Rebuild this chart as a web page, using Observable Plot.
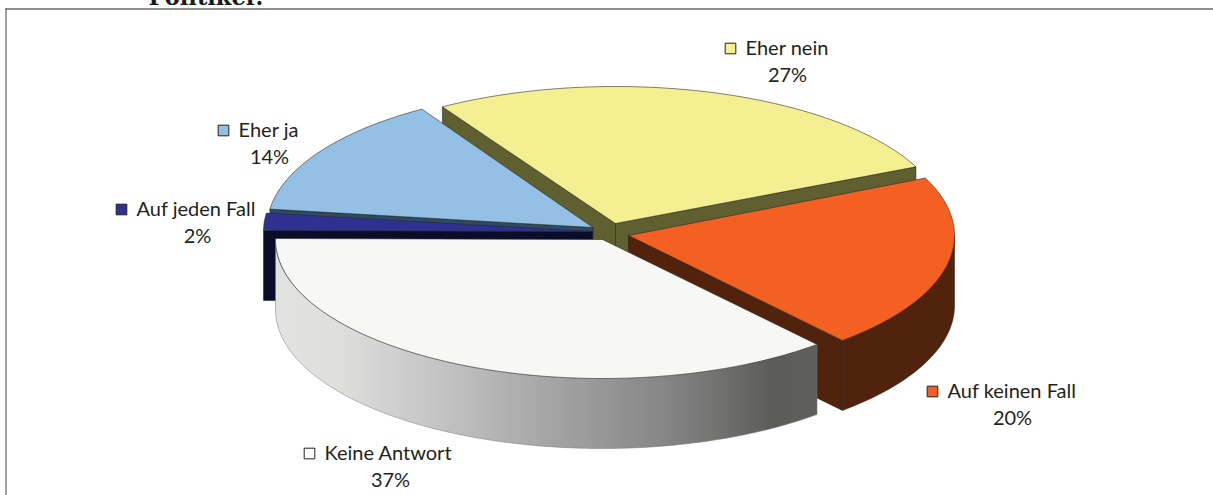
<!DOCTYPE html>
<html lang="de">
<head>
<meta charset="utf-8">
<title>Politiker</title>
<style>html,body{margin:0;padding:0;background:#fff;overflow:hidden}svg{display:block}</style>
<script src="https://cdn.jsdelivr.net/npm/d3@7"></script>
<script src="https://cdn.jsdelivr.net/npm/@observablehq/plot@0.6"></script>
</head>
<body>
<div id="chart"></div>
<script>
// Data, clockwise from the right-hand edge of "Keine Antwort"
const categories = ["Keine Antwort", "Auf jeden Fall", "Eher ja", "Eher nein", "Auf keinen Fall"];
const shares = [36.5, 2.0, 14.1, 27.0, 20.4];

// Styles and exploded layout, per category
const topColors = ["#f7f7f5", "#2e3192", "#94c0e6", "#f4f092", "#f36021"];
const wallColors = ["url(#keineWall)", "#0a0d2a", "#2d4a63", "#5f5f2f", "#52230c"];
const swatchColors = ["#ffffff", "#2e3192", "#94c0e6", "#f4f092", "#f36021"];
const apexX = [602, 592, 592.5, 615, 628];
const apexY = [239, 231, 227, 223, 235];
const radiusX = [327, 329, 326, 330, 326];
const radiusY = [139, 139, 139, 137, 139];
const depth = 70;
const firstAngle = 49;
const paintOrder = [3, 2, 1, 4, 0];

const labelSwatchX = [309, 121, 223, 730, 932];
const labelY = [453, 209, 130, 48, 391];
const pctX = [390, 197, 269, 787, 1012];
const pctY = [480, 236, 157, 75, 418];

const total = d3.sum(shares);
const angles = d3.cumsum([firstAngle, ...shares.map(s => s / total * 360)]);
const rad = d => d * Math.PI / 180;

function rim(i, a, drop = 0) {
  return [apexX[i] + radiusX[i] * Math.cos(rad(a)), apexY[i] + radiusY[i] * Math.sin(rad(a)) + drop];
}
function arc(i, a0, a1, drop = 0) {
  const n = Math.max(2, Math.ceil(Math.abs(a1 - a0)));
  return d3.range(n + 1).map(k => rim(i, a0 + (a1 - a0) * k / n, drop));
}
const closed = pts => [...pts, pts[0]];
const poly = (pts, fill, stroke, sw = 0.6) =>
  Plot.line(closed(pts), {x: d => d[0], y: d => d[1], fill, stroke, strokeWidth: sw, curve: "linear", strokeLinejoin: "round"});

function sliceMarks(i) {
  const a0 = angles[i], a1 = angles[i + 1];
  const apex = [apexX[i], apexY[i]];
  const apexLow = [apexX[i], apexY[i] + depth];
  const marks = [];
  const wallStroke = i === 0 ? "#777" : "#1a1a1a";
  if (Math.cos(rad(a0)) < 0)
    marks.push(poly([apex, rim(i, a0), rim(i, a0, depth), apexLow], wallColors[i], wallStroke, 0.5));
  if (Math.cos(rad(a1)) > 0)
    marks.push(poly([apex, rim(i, a1), rim(i, a1, depth), apexLow], wallColors[i], wallStroke, 0.5));
  // outer wall: the part of the rim that faces the viewer
  const spans = [[a0, a1], [a0 - 360, a1 - 360]];
  for (const [s, e] of spans) {
    const from = Math.max(s, 0), to = Math.min(e, 180);
    if (to > from) marks.push(poly([...arc(i, from, to), ...arc(i, to, from, depth)], wallColors[i], wallStroke, 0.5));
  }
  marks.push(poly([apex, ...arc(i, a0, a1)], topColors[i], "#2b2b2b", 0.6));
  return marks;
}

const defs = () => {
  const d = d3.create("svg:defs");
  const g = d.append("linearGradient").attr("id", "keineWall")
    .attr("gradientUnits", "userSpaceOnUse")
    .attr("x1", 275).attr("x2", 815).attr("y1", 0).attr("y2", 0);
  [[0, "#e2e2e1"], [0.12, "#dededd"], [0.3, "#c4c4c4"], [0.5, "#a6a6a6"], [0.72, "#868686"], [0.92, "#5c5c5a"], [1, "#5e5f5c"]]
    .forEach(([o, c]) => g.append("stop").attr("offset", o).attr("stop-color", c));
  return d.node();
};

const legend = categories.map((name, i) => ({
  name, pct: Math.round(shares[i]) + "%", sx: labelSwatchX[i], y: labelY[i], px: pctX[i], py: pctY[i], color: swatchColors[i]
}));
const font = "Lato, sans-serif";

const chart = Plot.plot({
  width: 1213, height: 495, margin: 0,
  x: {domain: [0, 1213], range: [0, 1213], axis: null},
  y: {domain: [0, 495], range: [0, 495], axis: null},
  style: {background: "#fff", overflow: "hidden"},
  marks: [
    defs,
    Plot.ruleY([8.5], {x1: 5.5, x2: 1213, stroke: "#222", strokeWidth: 1.2}),
    Plot.ruleX([5.5], {y1: 8.5, y2: 495, stroke: "#444", strokeWidth: 1}),
    ...paintOrder.flatMap(sliceMarks),
    Plot.dot(legend, {x: "sx", y: "y", symbol: "square", r: 6, fill: "color", stroke: "#231f20", strokeWidth: 1}),
    Plot.text(legend, {x: d => d.sx + 15, y: "y", text: "name", textAnchor: "start", fontFamily: font, fontSize: 20, fill: "#231f20"}),
    Plot.text(legend, {x: "px", y: "py", text: "pct", textAnchor: "middle", fontFamily: font, fontSize: 20, fill: "#231f20"}),
    Plot.text(["Politiker."], {x: 148, y: 4, text: d => d, textAnchor: "start", lineAnchor: "bottom", fontFamily: "'DejaVu Serif', serif", fontWeight: "bold", fontSize: 22.5, fill: "#1a1a1a"})
  ]
});
document.getElementById("chart").append(chart);
</script>
</body>
</html>
